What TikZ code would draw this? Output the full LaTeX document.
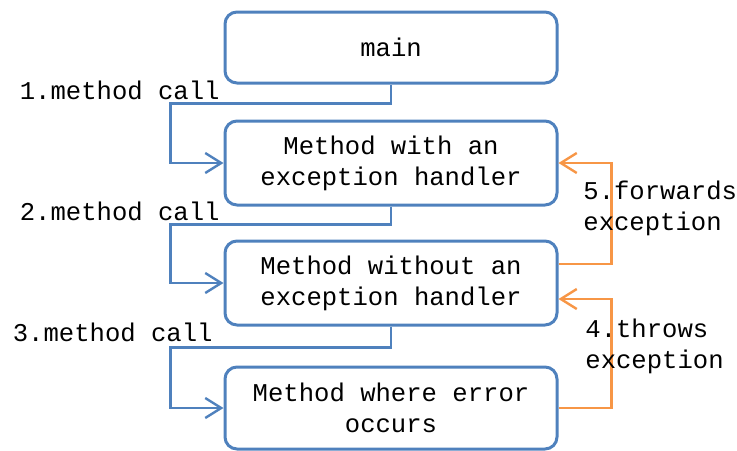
\documentclass[tikz,border=0pt]{standalone}
\usepackage{fontspec}
\setmonofont{Liberation Mono}
\usetikzlibrary{arrows.meta,positioning}
\definecolor{boxblue}{HTML}{4F81BD}
\definecolor{excorange}{HTML}{F79646}

\begin{document}
\begin{tikzpicture}[x=0.5pt, y=-0.5pt, font=\ttfamily\fontsize{12.8}{15.5}\selectfont,
    method/.style={draw=boxblue, line width=1.5pt, rounded corners=6pt,
                   minimum width=166pt, minimum height=42pt, align=center},
    call/.style={draw=boxblue, line width=1.2pt, -{Straight Barb[length=8pt,width=10pt]}},
    exc/.style={draw=excorange, line width=1.2pt, -{Straight Barb[length=8pt,width=10pt]}},
    lbl/.style={align=left, inner sep=0pt}]
    \useasboundingbox (0,0) rectangle (737,450);
    \node[method, minimum height=35.5pt] (main) at (391,47.5) {main};
    \node[method] (withh) at (391,163) {Method with an\\exception handler};
    \node[method] (without) at (391,283) {Method without an\\exception handler};
    \node[method, minimum height=41pt] (occurs) at (391,408)
      {Method where error\\occurs};
    % calls down the stack
    \draw[call] (main.south) -- ++(0,19) -| ([xshift=-26.5pt]withh.west) -- (withh.west);
    \draw[call] (withh.south) -- ++(0,18) -| ([xshift=-26.5pt]without.west) -- (without.west);
    \draw[call] (without.south) -- ++(0,21) -| ([xshift=-26.5pt]occurs.west) -- (occurs.west);
    % exception back up
    \draw[exc] (occurs.east) -- ++(53,0) |- ([yshift=-8pt]without.east);
    \draw[exc] ([yshift=9.5pt]without.east) -- ++(53,0) |- (withh.east);
    \node[lbl, anchor=east] (call1) at (220,90) {1.method call};
    \node[lbl, anchor=east] (call2) at (220,211) {2.method call};
    \node[lbl, anchor=east] (call3) at (213,332) {3.method call};
    \node[lbl, anchor=west] (fwd) at (583,208) {5.forwards\\exception};
    \node[lbl, anchor=west] (thr) at (585,346) {4.throws\\exception};
\end{tikzpicture}
\end{document}
